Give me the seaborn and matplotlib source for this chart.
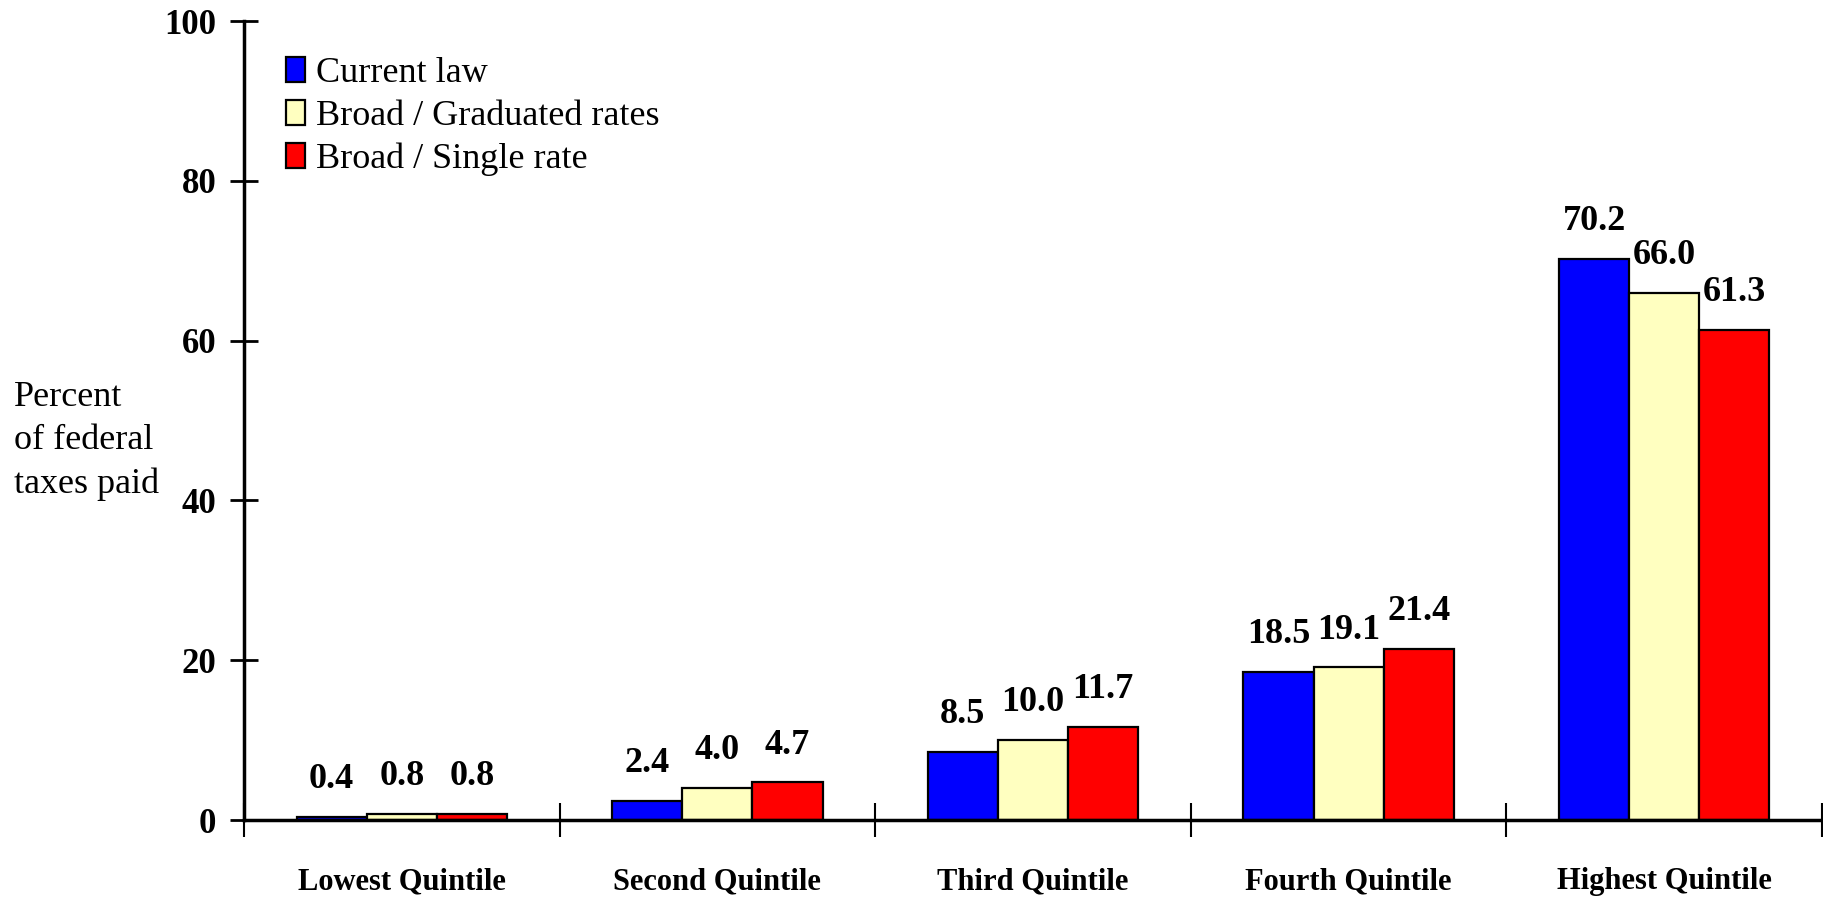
import matplotlib
matplotlib.use("Agg")
import matplotlib.pyplot as plt
import seaborn as sns
import pandas as pd

quintiles = ["Lowest Quintile", "Second Quintile", "Third Quintile",
             "Fourth Quintile", "Highest Quintile"]
scenarios = ["Current law", "Broad / Graduated rates", "Broad / Single rate"]
current_law = [0.4, 2.4, 8.5, 18.5, 70.2]
graduated = [0.8, 4.0, 10.0, 19.1, 66.0]
single_rate = [0.8, 4.7, 11.7, 21.4, 61.3]
colors = ["#0000FF", "#FFFFC0", "#FF0000"]
y_ticks = [0, 20, 40, 60, 80, 100]

df = pd.DataFrame({
    "quintile": quintiles * 3,
    "scenario": [s for s in scenarios for _ in quintiles],
    "value": current_law + graduated + single_rate,
})

sns.set_theme(style="white")
plt.rcParams["font.family"] = ["Liberation Serif", "DejaVu Serif"]
for key in ["text.color", "axes.labelcolor", "xtick.color", "ytick.color"]:
    plt.rcParams[key] = "black"

fig = plt.figure(figsize=(18.24, 8.97), dpi=100)
ax = fig.add_axes([244 / 1824, 1 - 820 / 897, (1822 - 244) / 1824, (820 - 21) / 897])

sns.barplot(data=df, x="quintile", y="value", hue="scenario",
            order=quintiles, hue_order=scenarios, palette=colors,
            width=0.667, edgecolor="black", linewidth=1.6,
            saturation=1, errorbar=None, legend=False, ax=ax)

# value labels above each bar
for cont in ax.containers:
    vals = [b.get_height() for b in cont]
    ax.bar_label(cont, labels=[f"{v:.1f}" for v in vals], padding=15,
                 fontsize=26, fontweight="bold", color="black")

ax.set_ylim(0, 100)
ax.set_xlim(-0.5, len(quintiles) - 0.5)
ax.set_yticks(y_ticks)
ax.set_yticklabels([str(t) for t in y_ticks], fontsize=25, fontweight="bold")
ax.tick_params(axis="y", direction="inout", length=20, width=2, pad=10,
               left=True)

# category names centred under groups, tick marks between groups
ax.set_xticks(range(len(quintiles)))
ax.set_xticklabels(quintiles, fontsize=22, fontweight="bold")
ax.set_xticks([i - 0.5 for i in range(len(quintiles) + 1)], minor=True)
ax.tick_params(axis="x", which="major", length=0, pad=34)
ax.tick_params(axis="x", which="minor", direction="inout", length=24,
               width=1.5, bottom=True)
ax.set_xlabel("")
ax.set_ylabel("")

for side in ["top", "right"]:
    ax.spines[side].set_visible(False)
for side in ["left", "bottom"]:
    ax.spines[side].set_linewidth(2.5)
    ax.spines[side].set_color("black")

fig.text(14 / 1824, 1 - 441 / 897, "Percent\nof federal\ntaxes paid",
         fontsize=26, ha="left", va="center", linespacing=1.4)

handles = [cont.patches[0] for cont in ax.containers]
leg = fig.legend(handles, scenarios, loc="upper left",
                 bbox_to_anchor=(286 / 1824, 1 - 57 / 897),
                 frameon=False, fontsize=26, borderpad=0, borderaxespad=0,
                 handlelength=0.53, handleheight=0.7, handletextpad=0.3,
                 labelspacing=0.26)

fig.savefig("out.png", dpi=100, facecolor="white")
